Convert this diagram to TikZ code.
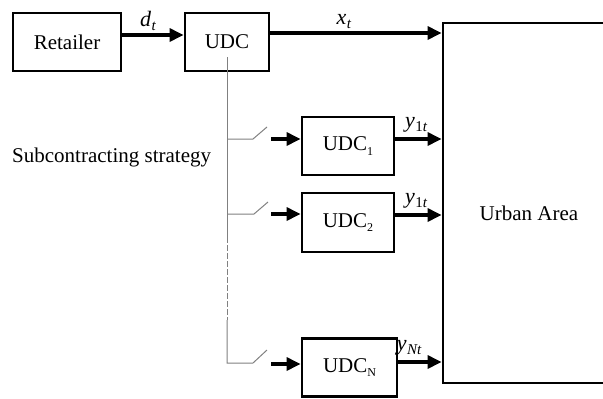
\documentclass[tikz,border=0pt]{standalone}
\usepackage{fontspec}
\setmainfont{Liberation Serif}
\usetikzlibrary{arrows.meta}
\begin{document}
\begin{tikzpicture}[x=1pt,y=-1pt,
  box/.style={draw, line width=2.8pt, inner sep=0pt, font=\fontsize{21}{24}\selectfont},
  arr/.style={line width=3.2pt, -{Triangle[length=14pt,width=13pt]}},
  gl/.style={draw=black!50, line width=1pt},
  lab/.style={font=\fontsize{22}{24}\selectfont, inner sep=1pt},
  txt/.style={font=\fontsize{21}{24}\selectfont, inner sep=0pt}]
\useasboundingbox (0,0) rectangle (603,399);
\clip (0,0) rectangle (603,399);
\newcommand{\sbs}[1]{\raisebox{-0.45ex}{\fontsize{12}{12}\selectfont #1}}
\newcommand{\mlab}[2]{\textit{#1}\kern0.5pt\raisebox{-0.35ex}{\fontsize{15}{15}\selectfont #2}}
% boxes
\node[box, minimum width=108pt, minimum height=58pt] (ret) at (67,42) {Retailer};
\node[box, minimum width=84pt, minimum height=58pt] (udc) at (227,42) {UDC};
\node[box, minimum width=92pt, minimum height=58pt] (u1) at (348,146) {UDC\sbs{1}};
\node[box, minimum width=92pt, minimum height=59pt] (u2) at (348,222.5) {UDC\sbs{2}};
\node[box, minimum width=95pt, minimum height=58pt] (uN) at (349.5,367.5) {UDC\sbs{N}};
\node[box, minimum width=172pt, minimum height=360pt] (urban) at (529,203) {};
\node[txt] (urbantxt) at (529,213) {Urban Area};
\node[txt, anchor=west] (sub) at (12,157) {Subcontracting strategy};
% main arrows
\draw[arr] ([yshift=7pt]ret.east) -- node[lab, above=2pt, pos=0.42] (dt) {\mlab{d}{\textit{t}}} ([yshift=7pt]udc.west);
\draw[arr] ([yshift=9pt]udc.east) -- node[lab, above=2pt, pos=0.43] (xt) {\mlab{x}{\textit{t}}} ([yshift=9pt]udc.east -| urban.west);
% outputs
\draw[arr] ([yshift=7pt]u1.east) -- node[lab, above=4pt, pos=0.45] (y1) {\mlab{y}{1\textit{t}}} ([yshift=7pt]u1.east -| urban.west);
\draw[arr] ([yshift=7.5pt]u2.east) -- node[lab, above=4pt, pos=0.45] (y2) {\mlab{y}{1\textit{t}}} ([yshift=7.5pt]u2.east -| urban.west);
\draw[arr] ([yshift=5.5pt]uN.east) -- node[lab, above=4pt, pos=0.25] (yN) {\mlab{y}{\textit{Nt}}} ([yshift=5.5pt]uN.east -| urban.west);
% inputs
\coordinate (i1) at (271,139);
\coordinate (i2) at (271,214);
\coordinate (iN) at (271,364);
\draw[arr] (i1) -- (i1 -| u1.west);
\draw[arr] (i2) -- (i2 -| u2.west);
\draw[arr] (iN) -- (iN -| uN.west);
% subcontracting branch
\coordinate (bt) at (227,57);
\coordinate (d1) at (227,237);
\coordinate (d2) at (227,320);
\draw[gl] (bt) -- (d1);
\draw[gl, dash pattern=on 6pt off 2pt] (d1) -- (d2);
\draw[gl] (d2) -- (227,363) -- (253,363) -- (267,350);
\draw[gl] (227,139) -- (253,139) -- (267,127);
\draw[gl] (227,214) -- (254,214) -- (268,202);
\end{tikzpicture}
\end{document}
